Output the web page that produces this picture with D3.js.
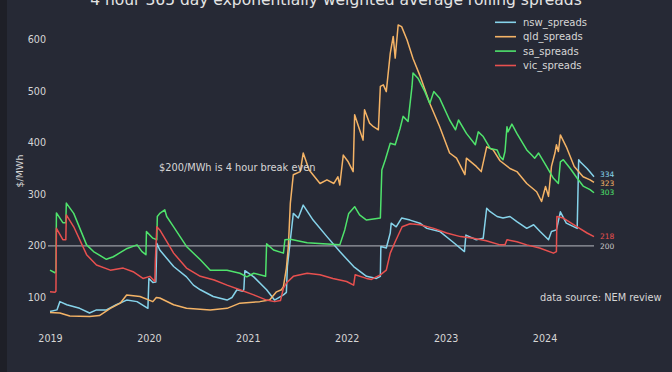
<!DOCTYPE html>
<html><head><meta charset="utf-8">
<script src="https://cdn.jsdelivr.net/npm/d3@7"></script>
<style>
html,body{margin:0;padding:0;background:#262935;}
svg{display:block;font-family:"DejaVu Sans",sans-serif;}
</style></head>
<body><svg id="c" width="672" height="372"></svg>
<script>
const title = "4 hour 365 day exponentially weighted average rolling spreads";
const yearTicks = [2019, 2020, 2021, 2022, 2023, 2024];
const valueTicks = [100, 200, 300, 400, 500, 600];
const breakEven = 200;
const seriesNames = ["nsw_spreads", "qld_spreads", "sa_spreads", "vic_spreads"];

const nsw = [[2019.00,73],[2019.07,76],[2019.10,92],[2019.17,86],[2019.30,79],[2019.40,70],[2019.47,76],[2019.57,76],[2019.67,86],[2019.775,95],[2019.88,92],[2019.99,79],[2020.00,137],[2020.04,129],[2020.07,130],[2020.08,205],[2020.11,192],[2020.25,160],[2020.38,140],[2020.45,124],[2020.52,115],[2020.65,102],[2020.79,95],[2020.84,100],[2020.89,115],[2020.95,112],[2020.96,116],[2020.97,152],[2021.06,140],[2021.19,115],[2021.27,95],[2021.36,105],[2021.39,110],[2021.40,160],[2021.46,263],[2021.51,254],[2021.56,279],[2021.66,250],[2021.80,218],[2021.93,189],[2022.07,160],[2022.20,141],[2022.30,137],[2022.34,141],[2022.345,199],[2022.40,196],[2022.44,225],[2022.45,244],[2022.50,237],[2022.555,254],[2022.64,250],[2022.74,244],[2022.81,234],[2022.94,228],[2023.07,208],[2023.19,189],[2023.205,221],[2023.31,212],[2023.38,215],[2023.415,273],[2023.44,268],[2023.52,257],[2023.58,254],[2023.65,257],[2023.72,247],[2023.82,234],[2023.89,241],[2023.955,228],[2024.04,212],[2024.07,228],[2024.12,231],[2024.16,266],[2024.22,244],[2024.33,234],[2024.345,367],[2024.36,363],[2024.43,350],[2024.50,334]];

const qld = [[2019.00,71],[2019.10,70],[2019.20,64],[2019.40,63],[2019.50,65],[2019.61,79],[2019.71,89],[2019.775,105],[2019.91,102],[2020.04,92],[2020.075,100],[2020.11,99],[2020.25,86],[2020.38,79],[2020.62,76],[2020.79,79],[2020.92,89],[2021.12,92],[2021.22,95],[2021.29,111],[2021.34,115],[2021.36,121],[2021.39,157],[2021.41,199],[2021.43,283],[2021.46,338],[2021.53,344],[2021.56,380],[2021.62,347],[2021.73,321],[2021.80,328],[2021.87,321],[2021.91,334],[2021.93,318],[2021.965,376],[2022.015,363],[2022.065,344],[2022.08,454],[2022.13,425],[2022.165,405],[2022.18,464],[2022.23,438],[2022.27,431],[2022.32,425],[2022.34,509],[2022.37,512],[2022.40,499],[2022.44,573],[2022.47,606],[2022.49,564],[2022.52,628],[2022.555,625],[2022.61,599],[2022.67,563],[2022.74,530],[2022.84,476],[2022.94,431],[2023.04,380],[2023.11,370],[2023.195,338],[2023.21,370],[2023.31,354],[2023.36,344],[2023.415,392],[2023.48,386],[2023.55,365],[2023.65,350],[2023.72,344],[2023.82,321],[2023.92,305],[2023.97,286],[2024.01,315],[2024.04,296],[2024.07,354],[2024.105,380],[2024.12,396],[2024.14,383],[2024.16,415],[2024.22,392],[2024.30,354],[2024.39,334],[2024.46,328],[2024.50,323]];

const sa = [[2019.00,153],[2019.05,148],[2019.06,150],[2019.065,264],[2019.13,245],[2019.16,245],[2019.165,283],[2019.24,263],[2019.37,202],[2019.44,189],[2019.57,174],[2019.64,179],[2019.78,195],[2019.88,202],[2019.93,189],[2019.97,183],[2019.975,228],[2020.04,215],[2020.08,212],[2020.085,257],[2020.11,263],[2020.16,270],[2020.18,257],[2020.25,237],[2020.38,199],[2020.52,173],[2020.62,153],[2020.79,153],[2020.92,147],[2020.99,140],[2021.06,147],[2021.18,141],[2021.19,204],[2021.26,192],[2021.36,186],[2021.375,212],[2021.43,213],[2021.60,206],[2021.76,204],[2021.93,202],[2021.98,231],[2022.02,263],[2022.08,276],[2022.13,260],[2022.20,250],[2022.34,254],[2022.355,347],[2022.39,367],[2022.44,399],[2022.49,396],[2022.54,428],[2022.57,451],[2022.62,441],[2022.66,509],[2022.67,535],[2022.72,525],[2022.79,499],[2022.84,476],[2022.88,499],[2022.94,486],[2023.04,444],[2023.10,425],[2023.13,444],[2023.21,418],[2023.30,396],[2023.33,421],[2023.38,412],[2023.45,389],[2023.52,386],[2023.55,373],[2023.58,367],[2023.60,383],[2023.62,431],[2023.63,421],[2023.67,436],[2023.72,418],[2023.82,386],[2023.87,376],[2023.90,370],[2023.94,380],[2024.02,354],[2024.09,331],[2024.14,321],[2024.16,363],[2024.19,367],[2024.26,350],[2024.33,331],[2024.39,316],[2024.46,309],[2024.50,303]];

const vic = [[2019.00,111],[2019.05,110],[2019.06,112],[2019.065,234],[2019.13,212],[2019.16,212],[2019.165,260],[2019.24,237],[2019.37,183],[2019.47,163],[2019.61,153],[2019.74,157],[2019.84,150],[2019.94,137],[2020.01,141],[2020.06,131],[2020.065,170],[2020.08,237],[2020.11,231],[2020.21,199],[2020.25,186],[2020.38,157],[2020.52,141],[2020.66,134],[2020.79,124],[2020.92,115],[2021.06,105],[2021.19,95],[2021.27,92],[2021.33,94],[2021.36,118],[2021.39,128],[2021.46,141],[2021.60,147],[2021.73,144],[2021.86,137],[2021.999,131],[2022.07,124],[2022.085,144],[2022.20,137],[2022.25,135],[2022.34,144],[2022.40,153],[2022.44,186],[2022.49,208],[2022.56,237],[2022.64,243],[2022.74,241],[2022.88,234],[2023.01,225],[2023.15,218],[2023.28,215],[2023.41,210],[2023.55,202],[2023.60,202],[2023.62,212],[2023.72,208],[2023.82,202],[2023.95,196],[2024.09,186],[2024.12,189],[2024.125,257],[2024.19,254],[2024.33,237],[2024.43,225],[2024.50,218]];

const seriesData = [nsw, qld, sa, vic];
const colors = ["#86d3ea", "#f4b366", "#4fe36c", "#e8504f"];
const endLabels = ["334", "323", "303", "218"];
const endLabelOffsets = [-2.2, 0.6, 0, 0];

const svg = d3.select("#c");
svg.append("rect").attr("width", 672).attr("height", 372).attr("fill", "#262935");
svg.append("rect").attr("width", 7).attr("height", 372).attr("fill", "#1e1f27");

const x = d3.scaleLinear().domain([2019, 2024.5]).range([50, 594]);
const y = d3.scaleLinear().domain([100, 600]).range([297.5, 39.5]);

const txt = "#d6d6d6";

// title
svg.append("text").attr("x", 336).attr("y", 5).attr("text-anchor", "middle")
  .attr("fill", "#e4e4e4").style("font-size", "15.5px").text(title);

// axes
const xAxis = d3.axisBottom(x).tickValues(yearTicks).tickFormat(d3.format("d")).tickSize(0).tickPadding(0);
const gx = svg.append("g").attr("transform", "translate(0,335)").call(xAxis);
gx.select(".domain").remove();
gx.selectAll("text").attr("fill", txt).style("font-size", "9.6px").style("font-family", "DejaVu Sans");

const yAxis = d3.axisLeft(y).tickValues(valueTicks).tickSize(0).tickPadding(0);
const gy = svg.append("g").attr("transform", "translate(46,0)").call(yAxis);
gy.select(".domain").remove();
gy.selectAll("text").attr("fill", txt).style("font-size", "9.6px").style("font-family", "DejaVu Sans");

svg.append("text").attr("transform", "translate(23,171) rotate(-90)").attr("text-anchor", "middle")
  .attr("fill", txt).style("font-size", "9.5px").text("$/MWh");

// break-even line
svg.append("line").attr("x1", 48).attr("x2", 594).attr("y1", y(breakEven)).attr("y2", y(breakEven))
  .attr("stroke", "#9a9ca4").attr("stroke-width", 1.1);

// lines
const line = d3.line().x(d => x(d[0])).y(d => y(d[1]));
seriesData.forEach((s, i) => {
  svg.append("path").datum(s).attr("d", line).attr("fill", "none")
    .attr("stroke", colors[i]).attr("stroke-width", 1.5).attr("stroke-linejoin", "round");
});

// end labels
seriesData.forEach((s, i) => {
  const last = s[s.length - 1];
  svg.append("text").attr("x", 600).attr("y", y(last[1]) + endLabelOffsets[i]).attr("dy", "0.35em")
    .attr("fill", colors[i]).style("font-size", "7.5px").text(endLabels[i]);
});
svg.append("text").attr("x", 600).attr("y", y(breakEven)).attr("dy", "0.35em")
  .attr("fill", "#c8c8c8").style("font-size", "7.5px").text("200");

// annotations
svg.append("text").attr("x", 159).attr("y", 167.5).attr("dy", "0.35em")
  .attr("fill", txt).style("font-size", "9.8px").text("$200/MWh is 4 hour break even");
svg.append("text").attr("x", 540).attr("y", 297.5).attr("dy", "0.35em")
  .attr("fill", txt).style("font-size", "9.8px").text("data source: NEM review");

// legend
const lg = svg.append("g");
seriesNames.forEach((n, i) => {
  const yy = 22.3 + i * 14.4;
  lg.append("line").attr("x1", 495).attr("x2", 516).attr("y1", yy).attr("y2", yy)
    .attr("stroke", colors[i]).attr("stroke-width", 1.6);
  lg.append("text").attr("x", 523).attr("y", yy).attr("dy", "0.35em")
    .attr("fill", txt).style("font-size", "10px").text(n);
});
</script></body></html>
